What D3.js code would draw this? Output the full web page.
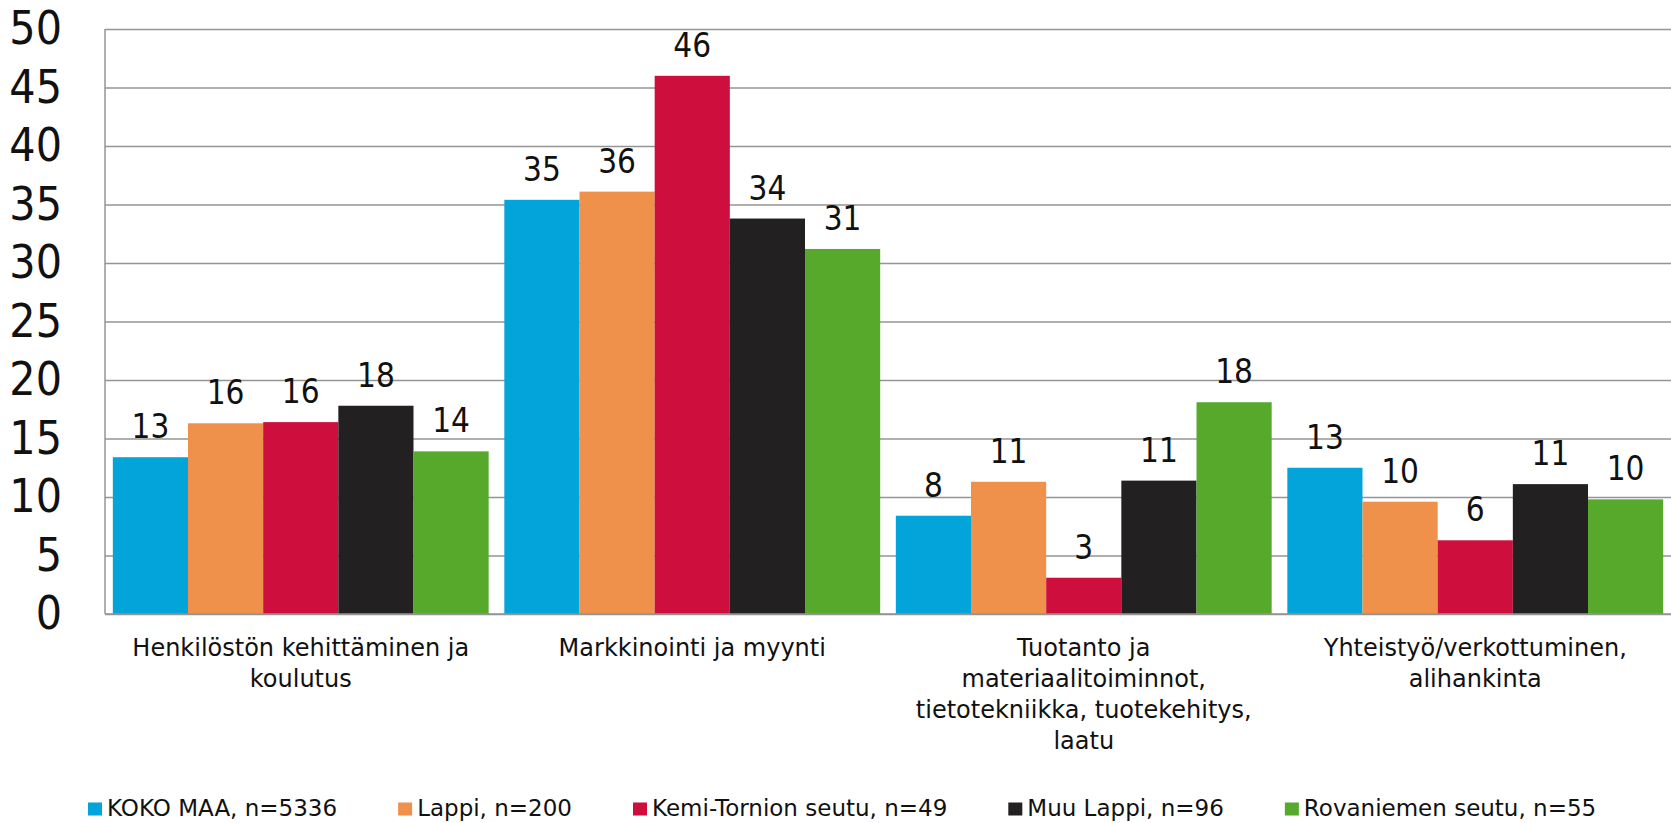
<!DOCTYPE html>
<html>
<head>
<meta charset="utf-8">
<script src="https://cdn.jsdelivr.net/npm/d3@7"></script>
<style>
  body { margin: 0; background: #fff; }
  text { font-family: "DejaVu Sans Condensed", "DejaVu Sans", sans-serif; fill: #111; }
  text.cat, text.leg { font-family: "DejaVu Sans", sans-serif; }
</style>
</head>
<body>
<div id="chart"></div>
<script>
// categories (label lines as shown under the axis)
const categories = [
    ["Henkilöstön kehittäminen ja", "koulutus"],
    ["Markkinointi ja myynti"],
    ["Tuotanto ja", "materiaalitoiminnot,", "tietotekniikka, tuotekehitys,", "laatu"],
    ["Yhteistyö/verkottuminen,", "alihankinta"]
];
const seriesNames = ["KOKO MAA, n=5336", "Lappi, n=200", "Kemi-Tornion seutu, n=49", "Muu Lappi, n=96", "Rovaniemen seutu, n=55"];
const seriesColors = ["#02A4D9", "#EF914B", "#CE0F3E", "#222020", "#57A92C"];

// values per series, in category order
const kokoMaa = [13.4, 35.4, 8.4, 12.5];
const lappi = [16.3, 36.1, 11.3, 9.6];
const kemiTornio = [16.4, 46.0, 3.1, 6.3];
const muuLappi = [17.8, 33.8, 11.4, 11.1];
const rovaniemi = [13.9, 31.2, 18.1, 9.8];
const seriesValues = [kokoMaa, lappi, kemiTornio, muuLappi, rovaniemi];

const yTicks = [0, 5, 10, 15, 20, 25, 30, 35, 40, 45, 50];

const W = 1671, H = 823;
const margin = { top: 29, right: 0, bottom: 209, left: 105 };
const width = W - margin.left - margin.right;
const height = H - margin.top - margin.bottom;

const svg = d3.select("#chart")
    .append("svg")
    .attr("width", W)
    .attr("height", H);

const g = svg.append("g")
    .attr("transform", `translate(${margin.left},${margin.top})`);

const catIdx = d3.range(categories.length);

const x0 = d3.scaleBand()
    .domain(catIdx)
    .range([0, width])
    .paddingInner(0.04)
    .paddingOuter(0.02);

const x1 = d3.scaleBand()
    .domain(d3.range(seriesNames.length))
    .range([0, x0.bandwidth()]);

const y = d3.scaleLinear()
    .domain([0, 50])
    .range([height, 0]);

// grid + y labels
const yAxis = g.append("g")
    .call(d3.axisLeft(y).tickValues(yTicks).tickSize(-width).tickPadding(43));
yAxis.select(".domain").remove();
yAxis.selectAll(".tick line")
    .attr("stroke", "#959595")
    .attr("stroke-width", 1.5);
yAxis.selectAll(".tick text")
    .style("font-size", "46px")
    .style("font-family", "'DejaVu Sans Condensed', 'DejaVu Sans', sans-serif")
    .attr("fill", "#111");

// left axis line
g.append("line")
    .attr("x1", 0).attr("x2", 0)
    .attr("y1", 0).attr("y2", height)
    .attr("stroke", "#959595")
    .attr("stroke-width", 1.5);

// bars
const rows = [];
seriesValues.forEach((vals, s) => {
    vals.forEach((v, c) => rows.push({ s: s, c: c, v: v }));
});

g.selectAll(".bar")
    .data(rows)
    .enter().append("rect")
    .attr("class", "bar")
    .attr("x", d => x0(d.c) + x1(d.s))
    .attr("y", d => y(d.v))
    .attr("width", x1.bandwidth())
    .attr("height", d => height - y(d.v))
    .attr("fill", d => seriesColors[d.s]);

g.selectAll(".label")
    .data(rows)
    .enter().append("text")
    .attr("class", "label")
    .attr("x", d => x0(d.c) + x1(d.s) + x1.bandwidth() / 2)
    .attr("y", d => y(d.v) - 19)
    .attr("text-anchor", "middle")
    .style("font-size", "33px")
    .text(d => d3.format(".0f")(d.v));

// bottom axis line
g.append("line")
    .attr("x1", 0).attr("x2", width)
    .attr("y1", height).attr("y2", height)
    .attr("stroke", "#959595")
    .attr("stroke-width", 1.5);

// category labels
const catLabels = g.selectAll(".cat")
    .data(categories)
    .enter().append("text")
    .attr("class", "cat")
    .attr("text-anchor", "middle")
    .attr("transform", (d, i) => `translate(${x0(i) + x0.bandwidth() / 2},${height + 42})`)
    .style("font-size", "24px");

catLabels.selectAll("tspan")
    .data(d => d)
    .enter().append("tspan")
    .attr("x", 0)
    .attr("dy", (d, i) => i === 0 ? 0 : 31)
    .text(d => d);

// legend
const legend = svg.append("g")
    .attr("transform", `translate(88, 816)`);

let lx = 0;
seriesNames.forEach((name, i) => {
    legend.append("rect")
        .attr("x", lx)
        .attr("y", -13.5)
        .attr("width", 14)
        .attr("height", 13)
        .attr("fill", seriesColors[i]);
    const t = legend.append("text")
        .attr("class", "leg")
        .attr("x", lx + 19)
        .attr("y", 0)
        .style("font-size", "23px")
        .text(name);
    lx += 19 + t.node().getComputedTextLength() + 61;
});
</script>
</body>
</html>
